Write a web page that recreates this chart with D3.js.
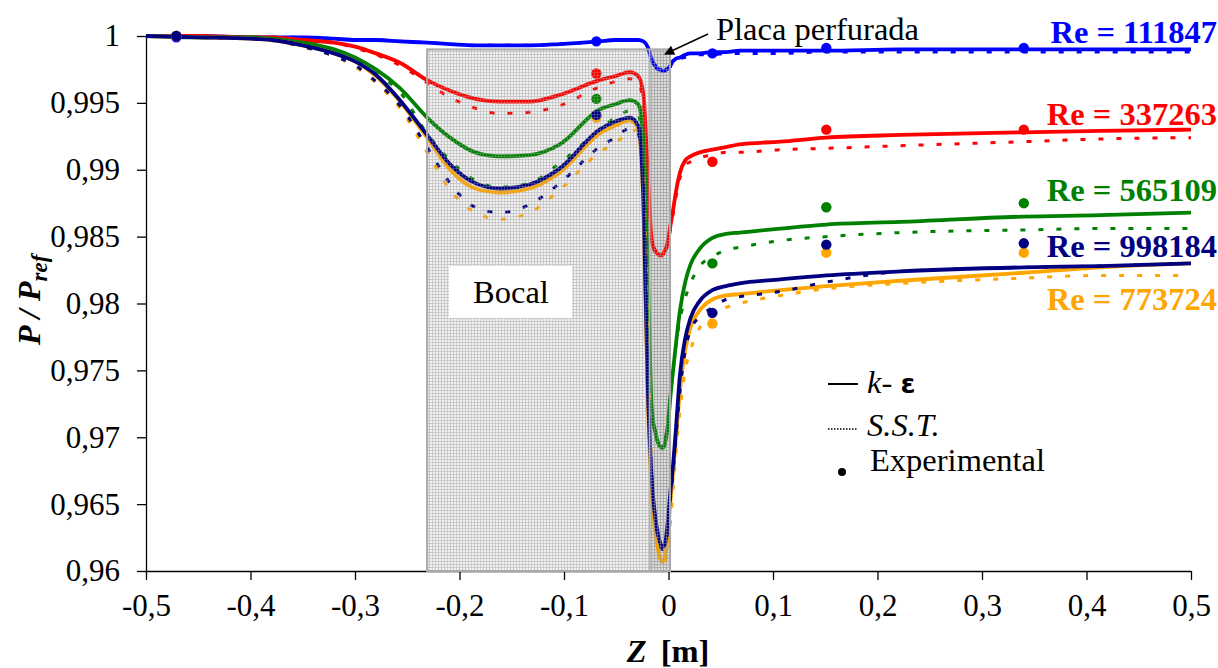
<!DOCTYPE html>
<html><head><meta charset="utf-8">
<script src="https://cdn.jsdelivr.net/npm/d3@7"></script>
<style>
body{margin:0;background:#fff}
svg{display:block}
</style>
</head><body>
<svg id="c" width="1218" height="668"></svg>
<script>
// ---------- DATA ----------
const zGrid = [-0.5,-0.45,-0.4,-0.38,-0.35,-0.32,-0.3,-0.28,-0.257,-0.231,-0.209,-0.185,-0.161,-0.133,-0.104,-0.066,-0.051,-0.037,-0.029,-0.024,-0.02,-0.016,-0.013,-0.01,-0.008,-0.006,-0.004,-0.002,0,0.002,0.004,0.007,0.011,0.016,0.021,0.03,0.042,0.055,0.068,0.107,0.151,0.222,0.34,0.413,0.5];

const ke_111847  = [1.0000,1.0000,0.9999,0.9999,0.9999,0.9998,0.9997,0.9997,0.9996,0.9995,0.9994,0.9993,0.9993,0.9993,0.9994,0.9996,0.9997,0.9997,0.9997,0.9996,0.9992,0.9982,0.9978,0.9975,0.9975,0.9974,0.9974,0.9975,0.9976,0.9978,0.9981,0.9983,0.9984,0.9986,0.9987,0.9987,0.9988,0.9988,0.9989,0.9989,0.9989,0.9990,0.9990,0.9990,0.9990];
const sst_111847 = [1.0000,1.0000,0.9999,0.9999,0.9999,0.9998,0.9997,0.9997,0.9996,0.9995,0.9994,0.9993,0.9993,0.9993,0.9994,0.9996,0.9997,0.9997,0.9997,0.9996,0.9992,0.9982,0.9978,0.9975,0.9974,0.9974,0.9974,0.9975,0.9976,0.9977,0.9979,0.9981,0.9983,0.9984,0.9985,0.9986,0.9986,0.9987,0.9987,0.9987,0.9988,0.9988,0.9988,0.9988,0.9988];

const ke_337263  = [1.0000,1.0000,0.9999,0.9999,0.9997,0.9995,0.9992,0.9987,0.9980,0.9967,0.9959,0.9953,0.9951,0.9951,0.9956,0.9967,0.9970,0.9973,0.9970,0.9956,0.9900,0.9847,0.9840,0.9837,0.9836,0.9836,0.9839,0.9842,0.9849,0.9859,0.9868,0.9883,0.9898,0.9907,0.9910,0.9913,0.9915,0.9917,0.9919,0.9921,0.9924,0.9926,0.9928,0.9929,0.9930];
const sst_337263 = [1.0000,1.0000,0.9999,0.9999,0.9997,0.9995,0.9991,0.9986,0.9978,0.9965,0.9954,0.9946,0.9942,0.9943,0.9948,0.9962,0.9966,0.9968,0.9966,0.9945,0.9889,0.9845,0.9839,0.9836,0.9836,0.9836,0.9838,0.9841,0.9847,0.9856,0.9865,0.9879,0.9894,0.9903,0.9906,0.9909,0.9911,0.9913,0.9913,0.9915,0.9916,0.9918,0.9921,0.9923,0.9924];

const ke_565109  = [1.0000,0.9999,0.9999,0.9998,0.9995,0.9990,0.9984,0.9975,0.9961,0.9939,0.9924,0.9913,0.9910,0.9911,0.9919,0.9945,0.9949,0.9952,0.9949,0.9922,0.9833,0.9720,0.9705,0.9696,0.9693,0.9692,0.9694,0.9701,0.9714,0.9732,0.9747,0.9769,0.9795,0.9816,0.9829,0.9841,0.9849,0.9852,0.9853,0.9856,0.9859,0.9861,0.9865,0.9866,0.9868];
const sst_565109 = [1.0000,0.9999,0.9999,0.9998,0.9994,0.9988,0.9982,0.9972,0.9958,0.9927,0.9907,0.9892,0.9887,0.9890,0.9905,0.9930,0.9939,0.9944,0.9941,0.9907,0.9818,0.9717,0.9704,0.9696,0.9694,0.9693,0.9696,0.9704,0.9717,0.9734,0.9747,0.9768,0.9788,0.9804,0.9815,0.9828,0.9835,0.9840,0.9842,0.9847,0.9850,0.9853,0.9855,0.9856,0.9856];

const ke_998184  = [1.0000,0.9999,0.9998,0.9997,0.9993,0.9987,0.9981,0.9971,0.9952,0.9926,0.9904,0.9890,0.9886,0.9889,0.9901,0.9930,0.9936,0.9939,0.9933,0.9877,0.9743,0.9668,0.9642,0.9627,0.9621,0.9618,0.9619,0.9627,0.9642,0.9661,0.9676,0.9705,0.9747,0.9774,0.9789,0.9802,0.9810,0.9813,0.9815,0.9818,0.9821,0.9824,0.9827,0.9828,0.9830];
const sst_998184 = [1.0000,0.9999,0.9998,0.9997,0.9992,0.9985,0.9978,0.9966,0.9948,0.9917,0.9890,0.9872,0.9868,0.9874,0.9890,0.9917,0.9924,0.9931,0.9927,0.9885,0.9750,0.9670,0.9642,0.9625,0.9619,0.9616,0.9617,0.9623,0.9637,0.9655,0.9670,0.9698,0.9735,0.9765,0.9780,0.9790,0.9797,0.9803,0.9805,0.9809,0.9816,0.9824,0.9827,0.9828,0.9830];

const ke_773724  = [1.0000,0.9999,0.9998,0.9997,0.9993,0.9987,0.9981,0.9970,0.9951,0.9924,0.9900,0.9886,0.9883,0.9886,0.9898,0.9927,0.9933,0.9937,0.9931,0.9874,0.9735,0.9657,0.9631,0.9616,0.9610,0.9607,0.9608,0.9617,0.9634,0.9653,0.9670,0.9698,0.9735,0.9765,0.9782,0.9795,0.9803,0.9806,0.9807,0.9810,0.9813,0.9817,0.9823,0.9827,0.9830];
const sst_773724 = [1.0000,0.9999,0.9998,0.9997,0.9992,0.9985,0.9977,0.9965,0.9946,0.9913,0.9885,0.9868,0.9863,0.9868,0.9885,0.9913,0.9920,0.9928,0.9930,0.9896,0.9780,0.9676,0.9634,0.9616,0.9608,0.9604,0.9604,0.9610,0.9619,0.9638,0.9657,0.9687,0.9720,0.9750,0.9765,0.9782,0.9791,0.9797,0.9800,0.9806,0.9811,0.9815,0.9819,0.9821,0.9821];

const expZ = [-0.471,-0.069,0.042,0.151,0.34];
const exp_111847 = [0.9999,0.9996,0.9987,0.9991,0.9991];
const exp_337263 = [1.0000,0.9972,0.9906,0.9930,0.9930];
const exp_565109 = [1.0000,0.9953,0.9830,0.9872,0.9875];
const exp_998184 = [1.0000,0.9941,0.9793,0.9844,0.9845];
const exp_773724 = [1.0000,0.9939,0.9785,0.9838,0.9838];

const reLabels = ["Re = 111847","Re = 337263","Re = 565109","Re = 998184","Re = 773724"];
const xTicks = [-0.5,-0.4,-0.3,-0.2,-0.1,0,0.1,0.2,0.3,0.4,0.5];
const yTicks = [0.96,0.965,0.97,0.975,0.98,0.985,0.99,0.995,1];
const bocalZ = [-0.231,-0.018];
const plateZ = [-0.018,0.0015];
const boxTopP = 0.999;

// ---------- STYLE ----------
const colors = ["#0000FF","#FF0000","#008000","#000080","#FFA500"];
const SERIF = '"Liberation Serif"';
const FS = 31;     // tick labels
const FS2 = 32.5;  // other texts

const kE  = [ke_111847,ke_337263,ke_565109,ke_998184,ke_773724];
const sst = [sst_111847,sst_337263,sst_565109,sst_998184,sst_773724];
const exps= [exp_111847,exp_337263,exp_565109,exp_998184,exp_773724];
const drawOrder = [0,1,2,4,3];

const svg = d3.select("#c");
const x = d3.scaleLinear().domain([-0.5,0.5]).range([146,1191]);
const y = d3.scaleLinear().domain([0.96,1]).range([571,36]);

const defs = svg.append("defs");
function mkPat(id, bg, ln){
  const p = defs.append("pattern").attr("id",id).attr("width",3).attr("height",3).attr("patternUnits","userSpaceOnUse");
  if (bg) p.append("rect").attr("width",3).attr("height",3).attr("fill",bg);
  p.append("path").attr("d","M0,0.5H3M0.5,0V3").attr("stroke",ln).attr("stroke-width",1).attr("fill","none");
}
mkPat("gridA","#f1f1f1","#d9d9d9");
mkPat("gridB","#dcdcdc","#c2c2c2");
mkPat("gridO",null,"rgba(170,170,170,0.28)");
mkPat("gridO2",null,"rgba(150,150,150,0.45)");
defs.append("marker").attr("id","arr").attr("viewBox","0 0 10 10").attr("refX",9).attr("refY",5)
  .attr("markerWidth",13).attr("markerHeight",10).attr("markerUnits","userSpaceOnUse").attr("orient","auto")
  .append("path").attr("d","M0,0L10,5L0,10Z").attr("fill","#000");

// Bocal / plate background
const yTop = y(boxTopP), yBot = y(0.96);
const bx0 = x(bocalZ[0]), bx1 = x(bocalZ[1]), px1 = x(plateZ[1]);
svg.append("rect").attr("x",bx0).attr("y",yTop).attr("width",bx1-bx0).attr("height",yBot-yTop).attr("fill","url(#gridA)");
svg.append("rect").attr("x",bx1).attr("y",yTop).attr("width",px1-bx1).attr("height",yBot-yTop).attr("fill","url(#gridB)");

// axes
const fmt = v => String(Math.round(v*1000)/1000).replace(".",",");
const ya = svg.append("g").attr("transform","translate(146,0)")
  .call(d3.axisLeft(y).tickValues(yTicks).tickSize(9).tickSizeOuter(0).tickPadding(17).tickFormat(fmt));
const xa = svg.append("g").attr("transform","translate(0,571)")
  .call(d3.axisBottom(x).tickValues(xTicks).tickSize(9).tickSizeOuter(0).tickPadding(14).tickFormat(fmt));
[ya,xa].forEach(g=>{
  g.attr("font-family",null).attr("font-size",null);
  g.selectAll("path.domain,line").attr("stroke","#000").attr("stroke-width",1.3);
  g.selectAll("text").attr("fill","#000").attr("class","tick-label");
});

// curves
const line = d3.line().x((d,i)=>x(zGrid[i])).y(d=>y(d)).curve(d3.curveMonotoneX);
const gC = svg.append("g");
drawOrder.forEach(k=>{
  gC.append("path").datum(kE[k]).attr("d",line).attr("fill","none").attr("stroke",colors[k])
    .attr("stroke-width",3.8).attr("stroke-linejoin","round");
  gC.append("path").datum(sst[k]).attr("d",line).attr("fill","none").attr("stroke",colors[k])
    .attr("stroke-width",3).attr("stroke-dasharray","5 13");
});
drawOrder.forEach(k=>{
  gC.selectAll(null).data(exps[k]).enter().append("circle")
    .attr("cx",(d,i)=>x(expZ[i])).attr("cy",d=>y(d)).attr("r",5.2).attr("fill",colors[k]);
});

// faint texture overlay + borders
svg.append("rect").attr("x",bx0).attr("y",yTop).attr("width",bx1-bx0).attr("height",yBot-yTop).attr("fill","url(#gridO)");
svg.append("rect").attr("x",bx1).attr("y",yTop).attr("width",px1-bx1).attr("height",yBot-yTop).attr("fill","url(#gridO2)");
svg.append("rect").attr("x",bx0).attr("y",yTop).attr("width",px1-bx0).attr("height",yBot-yTop)
  .attr("fill","none").attr("stroke","#a8a8a8").attr("stroke-width",2);
svg.append("line").attr("x1",bx1).attr("x2",bx1).attr("y1",yTop).attr("y2",yBot).attr("stroke","#b4b4b4").attr("stroke-width",1.5);

// Bocal label
svg.append("rect").attr("x",449).attr("y",266).attr("width",123).attr("height",52).attr("fill","#fff");
svg.append("text").attr("x",511).attr("y",303).attr("text-anchor","middle").text("Bocal");

// Placa perfurada
svg.append("text").attr("x",716).attr("y",40).text("Placa perfurada");
svg.append("line").attr("x1",708).attr("y1",34).attr("x2",665).attr("y2",54).attr("stroke","#000").attr("stroke-width",1.5).attr("marker-end","url(#arr)");

// Re labels
const labelBase = [43,125,201,257,310];
reLabels.forEach((t,k)=>{
  svg.append("text").attr("x",1217).attr("y",labelBase[k]).attr("text-anchor","end")
    .attr("font-weight","bold").attr("fill",colors[k]).text(t);
});

// legend
const lg = svg.append("g");
lg.append("line").attr("x1",828).attr("x2",858).attr("y1",384).attr("y2",384).attr("stroke","#000").attr("stroke-width",2);
const t1 = lg.append("text").attr("x",867).attr("y",393);
t1.append("tspan").attr("font-style","italic").text("k");
t1.append("tspan").text("- ");
t1.append("tspan").attr("class","eps").attr("font-weight","bold").text("ε");
lg.append("line").attr("x1",828).attr("x2",858).attr("y1",429).attr("y2",429).attr("stroke","#000").attr("stroke-width",1.5).attr("stroke-dasharray","1.5 1.5");
lg.append("text").attr("x",867).attr("y",436).attr("font-style","italic").text("S.S.T.");
lg.append("circle").attr("cx",842).attr("cy",472).attr("r",4).attr("fill","#000");
lg.append("text").attr("x",870).attr("y",471).text("Experimental");

// axis titles
const xt = svg.append("text").attr("x",668).attr("y",662).attr("text-anchor","middle").attr("font-weight","bold");
xt.append("tspan").attr("font-style","italic").text("Z");
xt.append("tspan").attr("dx",6).text(" [m]");
const yt = svg.append("text").attr("transform","translate(40,300) rotate(-90)").attr("text-anchor","middle")
  .attr("font-weight","bold").attr("font-style","italic");
yt.append("tspan").text("P / P");
yt.append("tspan").attr("class","sub").attr("dy",7).text("ref");

// fonts
svg.selectAll("text").style("font-family",SERIF).style("font-size",FS2+"px");
svg.selectAll("text.tick-label").style("font-size",FS+"px");
svg.selectAll("tspan.sub").style("font-family",SERIF).style("font-size","23px");
svg.selectAll("tspan.eps").style("font-family",'"DejaVu Sans"').style("font-size","27px");
</script>
</body></html>
